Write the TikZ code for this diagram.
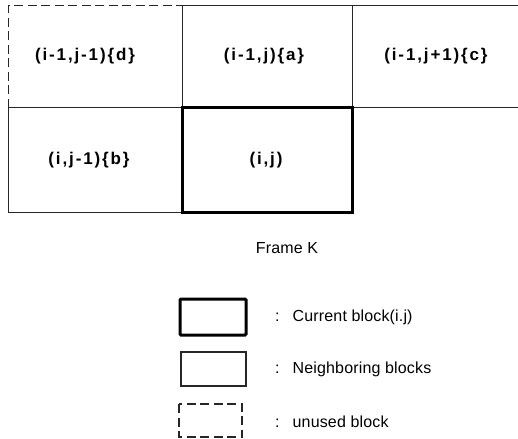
\documentclass[tikz,border=0pt]{standalone}
\usepackage{fontspec}
\setmainfont{Liberation Sans}
\newfontfamily\cellfont[LetterSpace=11]{Liberation Sans Bold}
\newfontfamily\legfont[LetterSpace=1]{Liberation Sans}
\begin{document}
\begin{tikzpicture}[x=1pt,y=-1pt,
  thinline/.style={line width=1pt,black!85},
  dashline/.style={line width=1pt,black!85,dash pattern=on 9pt off 4.5pt},
  thickline/.style={line width=3pt,black},
  celltext/.style={font=\cellfont\fontsize{17}{20}\selectfont,inner sep=0pt},
  legtext/.style={font=\legfont\fontsize{16}{19}\selectfont,anchor=west,inner sep=0pt}]
\useasboundingbox (0,0) rectangle (518,438);
% grid coordinates
\coordinate (tl) at (8,6);
\coordinate (tm) at (182,6);
\coordinate (tr) at (352,6);
\coordinate (te) at (518,6);
\coordinate (ml) at (8,108);
\coordinate (mm) at (182,108);
\coordinate (mr) at (352,108);
\coordinate (me) at (518,108);
\coordinate (bl) at (8,212);
\coordinate (bm) at (182,212);
\coordinate (br) at (352,212);
% unused block d (dashed top and left)
\draw[dashline] (ml) -- (tl) -- (tm);
% neighbouring block lines
\draw[thinline] (tm) -- (te);
\draw[thinline] (ml) -- (me);
\draw[thinline] (tm) -- (mm);
\draw[thinline] (tr) -- (mr);
\draw[thinline] (ml) -- (bl) -- (bm);
% current block
\draw[thickline] (mm) rectangle (br);
% cell labels
\node[celltext] (d) at (85,56) {(i-1,j-1)\{d\}};
\node[celltext] (a) at (264,56) {(i-1,j)\{a\}};
\node[celltext] (c) at (436,56) {(i-1,j+1)\{c\}};
\node[celltext] (b) at (89,160) {(i,j-1)\{b\}};
\node[celltext] (ij) at (266,160) {(i,j)};
\node[font=\legfont\fontsize{16}{19}\selectfont,inner sep=0pt] (frame) at (287,248) {Frame K};
% legend
\draw[thickline,rounded corners=1pt] (180,299) rectangle (246,335);
\draw[thinline,line width=1.2pt] (181,352) rectangle (246,386);
\draw[dashline,line width=1.2pt] (179,404) rectangle (242,437);
\node[legtext] (l1) at (275,317) {:\hspace{13pt}Current block(i.j)};
\node[legtext] (l2) at (275,369) {:\hspace{13pt}Neighboring blocks};
\node[legtext] (l3) at (275,422) {:\hspace{13pt}unused block};
\end{tikzpicture}
\end{document}
